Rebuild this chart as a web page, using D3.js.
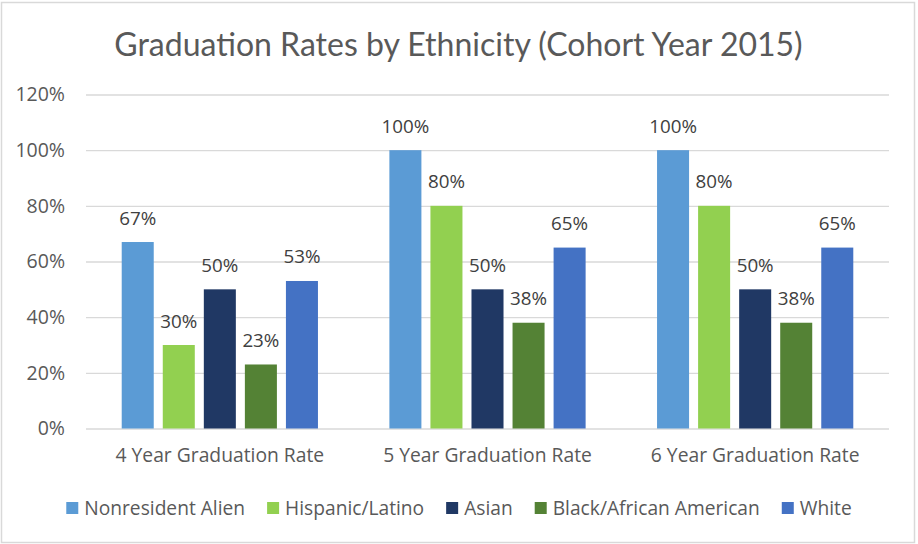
<!DOCTYPE html>
<html>
<head>
<meta charset="utf-8">
<script src="https://cdn.jsdelivr.net/npm/d3@7"></script>
<style>
  html, body { margin: 0; padding: 0; background: #fff; }
  svg { display: block; font-family: "Open Sans", sans-serif; }
</style>
</head>
<body>
<svg id="chart" width="918" height="544"></svg>
<script>
// ---- data ----
const title = "Graduation Rates by Ethnicity (Cohort Year 2015)";
const categories = ["4 Year Graduation Rate", "5 Year Graduation Rate", "6 Year Graduation Rate"];
const seriesNames = ["Nonresident Alien", "Hispanic/Latino", "Asian", "Black/African American", "White"];
const nonresidentAlien = [0.67, 1.00, 1.00];
const hispanicLatino   = [0.30, 0.80, 0.80];
const asian            = [0.50, 0.50, 0.50];
const blackAfricanAm   = [0.23, 0.38, 0.38];
const white            = [0.53, 0.65, 0.65];
const yTicks = [0, 0.2, 0.4, 0.6, 0.8, 1.0, 1.2];
const seriesColors = ["#5B9BD5", "#92D050", "#203864", "#548235", "#4472C4"];

const seriesValues = [nonresidentAlien, hispanicLatino, asian, blackAfricanAm, white];

// ---- layout ----
const W = 918, H = 544;
const plot = { left: 86, right: 889, top: 94.5, bottom: 428.5 };
const svg = d3.select("#chart");

// chart border
svg.append("rect")
  .attr("x", 1.5).attr("y", 2.5).attr("width", 913).attr("height", 540)
  .attr("fill", "#fff").attr("stroke", "#D9D9D9").attr("stroke-width", 1.5);

// title
svg.append("text")
  .attr("x", W / 2 - 0.5).attr("y", 56)
  .attr("text-anchor", "middle")
  .style("font-family", "Lato, sans-serif")
  .style("font-size", "32px")
  .attr("fill", "#595959")
  .text(title);

// scales
const y = d3.scaleLinear().domain([0, 1.2]).range([plot.bottom, plot.top]);
const x0 = d3.scaleBand().domain(categories).range([plot.left, plot.right]).padding(0);
const x1 = d3.scaleBand().domain(seriesNames)
  .range([0, x0.bandwidth()])
  .paddingInner(0.22).paddingOuter(0.87);

// gridlines + y axis labels
const yAxis = d3.axisLeft(y).tickValues(yTicks)
  .tickFormat(d3.format(".0%"))
  .tickSize(-(plot.right - plot.left)).tickPadding(21);
const gy = svg.append("g").attr("transform", `translate(${plot.left},0)`).call(yAxis);
gy.select(".domain").remove();
gy.selectAll(".tick line").attr("stroke", "#D9D9D9").attr("stroke-width", 1.3);
gy.selectAll(".tick text")
  .style("font-size", "19.5px").attr("fill", "#595959")
  .style("font-family", "'Open Sans', sans-serif");

// x axis labels
const xAxis = d3.axisBottom(x0).tickSize(0).tickPadding(0);
const gx = svg.append("g").attr("transform", `translate(0,${plot.bottom})`).call(xAxis);
gx.select(".domain").remove();
gx.selectAll(".tick text")
  .style("font-size", "19.3px").attr("fill", "#595959")
  .style("font-family", "'Open Sans', sans-serif")
  .attr("dy", null).attr("y", 33.5);

// bars
const groups = svg.append("g").selectAll("g")
  .data(categories)
  .join("g")
  .attr("transform", c => `translate(${x0(c)},0)`);

groups.each(function (c, ci) {
  const g = d3.select(this);
  seriesNames.forEach((s, si) => {
    const v = seriesValues[si][ci];
    g.append("rect")
      .attr("x", x1(s)).attr("width", x1.bandwidth())
      .attr("y", y(v)).attr("height", y(0) - y(v))
      .attr("fill", seriesColors[si]);
    g.append("text")
      .attr("x", x1(s) + x1.bandwidth() / 2)
      .attr("y", y(v) - 17.5)
      .attr("text-anchor", "middle")
      .style("font-size", "18.8px").attr("fill", "#404040")
      .text(d3.format(".0%")(v));
  });
});

// legend
const legend = svg.append("g");
const sw = 12, gapText = 6, gapItem = 22;
let cx = 0;
seriesNames.forEach((s, i) => {
  const item = legend.append("g").attr("transform", `translate(${cx},0)`);
  item.append("rect").attr("x", 0).attr("y", -6).attr("width", sw).attr("height", sw)
    .attr("fill", seriesColors[i]);
  const t = item.append("text").attr("x", sw + gapText).attr("y", 0)
    .attr("dy", "0.35em")
    .style("font-size", "19.2px").attr("fill", "#595959").text(s);
  cx += sw + gapText + t.node().getComputedTextLength() + gapItem;
});
const total = cx - gapItem;
legend.attr("transform", `translate(${W / 2 - total / 2},508)`);
</script>
</body>
</html>
